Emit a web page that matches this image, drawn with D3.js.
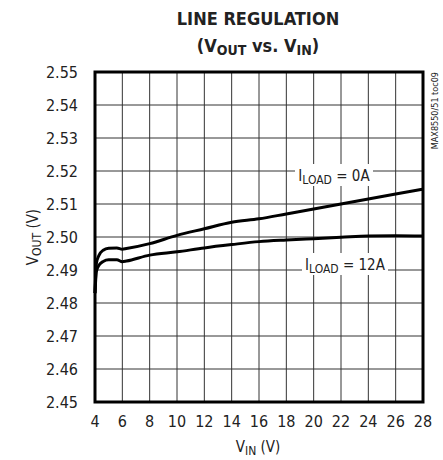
<!DOCTYPE html>
<meta charset="utf-8">
<title>Line Regulation</title>
<style>
  body { margin: 0; background: #fff; }
  text { font-family: "DejaVu Sans Condensed", "DejaVu Sans", sans-serif; font-stretch: condensed; fill: #222; }
</style>
<body>
<script src="https://cdn.jsdelivr.net/npm/d3@7"></script>
<script>
// values
const vinTicks = [4, 6, 8, 10, 12, 14, 16, 18, 20, 22, 24, 26, 28];
const voutTicks = [2.45, 2.46, 2.47, 2.48, 2.49, 2.50, 2.51, 2.52, 2.53, 2.54, 2.55];

const vin0A  = [4.0, 4.1, 4.3, 4.6, 5.0, 5.6, 6.0, 6.3, 8, 10, 12, 14, 16, 18, 20, 22, 24, 26, 28];
const vout0A = [2.483, 2.492, 2.4945, 2.496, 2.4966, 2.4967, 2.4963, 2.4965, 2.498, 2.5005, 2.5025, 2.5045, 2.5055, 2.507, 2.5085, 2.510, 2.5115, 2.513, 2.5145];

const vin12A  = [4.0, 4.1, 4.3, 4.6, 5.0, 5.6, 6.0, 6.3, 8, 10, 12, 14, 16, 18, 20, 22, 24, 26, 28];
const vout12A = [2.483, 2.4895, 2.4915, 2.4926, 2.4931, 2.4931, 2.4925, 2.4927, 2.4945, 2.4955, 2.4967, 2.4977, 2.4986, 2.4991, 2.4995, 2.4999, 2.5003, 2.5004, 2.5003];

const svg = d3.select("body").append("svg")
  .attr("width", 443).attr("height", 460);

const m = {left: 95, right: 423, top: 72, bottom: 402};
const x = d3.scaleLinear().domain([4, 28]).range([m.left, m.right]);
const y = d3.scaleLinear().domain([2.45, 2.55]).range([m.bottom, m.top]);

// grid
svg.append("g").selectAll("line").data(vinTicks.slice(1, -1)).join("line")
  .attr("x1", d => x(d)).attr("x2", d => x(d))
  .attr("y1", m.top).attr("y2", m.bottom)
  .attr("stroke", "#333").attr("stroke-width", 1);
svg.append("g").selectAll("line").data(voutTicks.slice(1, -1)).join("line")
  .attr("y1", d => y(d)).attr("y2", d => y(d))
  .attr("x1", m.left).attr("x2", m.right)
  .attr("stroke", "#333").attr("stroke-width", 1);

// tick labels
svg.append("g").selectAll("text").data(vinTicks).join("text")
  .attr("x", d => x(d)).attr("y", 427)
  .attr("text-anchor", "middle").attr("font-size", 16)
  .text(d => d);
svg.append("g").selectAll("text").data(voutTicks).join("text")
  .attr("x", 78).attr("y", d => y(d) + 6)
  .attr("text-anchor", "end").attr("font-size", 16)
  .text(d => d3.format(".2f")(d));

// labels with white background, drawn before curves
function loadLabel(cx, cy, w, val) {
  svg.append("rect").attr("x", cx - w / 2).attr("y", cy - 11)
    .attr("width", w).attr("height", 22).attr("fill", "#fff");
  const t = svg.append("text").attr("x", cx).attr("y", cy + 6)
    .attr("text-anchor", "middle").attr("font-size", 15);
  t.append("tspan").text("I");
  t.append("tspan").attr("font-size", 12).attr("dy", 3).text("LOAD");
  t.append("tspan").attr("dy", -3).text(" = " + val);
}
loadLabel(334, 175, 78, "0A");
loadLabel(345, 264, 86, "12A");

// curves
const line = d3.line().x(d => x(d[0])).y(d => y(d[1])).curve(d3.curveMonotoneX);
svg.append("path").datum(d3.zip(vin0A, vout0A))
  .attr("d", line).attr("fill", "none").attr("stroke", "#000").attr("stroke-width", 3);
svg.append("path").datum(d3.zip(vin12A, vout12A))
  .attr("d", line).attr("fill", "none").attr("stroke", "#000").attr("stroke-width", 3);

// frame
svg.append("rect").attr("x", m.left).attr("y", m.top)
  .attr("width", m.right - m.left).attr("height", m.bottom - m.top)
  .attr("fill", "none").attr("stroke", "#000").attr("stroke-width", 3);

// titles
svg.append("text").attr("x", 258).attr("y", 25).attr("text-anchor", "middle")
  .attr("font-size", 18).attr("font-weight", "bold").text("LINE REGULATION");
const sub = svg.append("text").attr("x", 258).attr("y", 52).attr("text-anchor", "middle")
  .attr("font-size", 18).attr("font-weight", "bold");
sub.append("tspan").text("(V");
sub.append("tspan").attr("font-size", 14).attr("dy", 3).text("OUT");
sub.append("tspan").attr("dy", -3).text(" vs. V");
sub.append("tspan").attr("font-size", 14).attr("dy", 3).text("IN");
sub.append("tspan").attr("dy", -3).text(")");

// axis titles
const xl = svg.append("text").attr("x", 258).attr("y", 452).attr("text-anchor", "middle").attr("font-size", 15);
xl.append("tspan").text("V");
xl.append("tspan").attr("font-size", 12).attr("dy", 3).text("IN");
xl.append("tspan").attr("dy", -3).text(" (V)");

const yl = svg.append("text").attr("transform", "translate(38,237) rotate(-90)")
  .attr("text-anchor", "middle").attr("font-size", 15);
yl.append("tspan").text("V");
yl.append("tspan").attr("font-size", 12).attr("dy", 3).text("OUT");
yl.append("tspan").attr("dy", -3).text(" (V)");

// side note
svg.append("text").attr("transform", "translate(438,72) rotate(-90)")
  .attr("text-anchor", "end").attr("font-size", 9).text("MAX8550/51 toc09");
</script>
</body>
